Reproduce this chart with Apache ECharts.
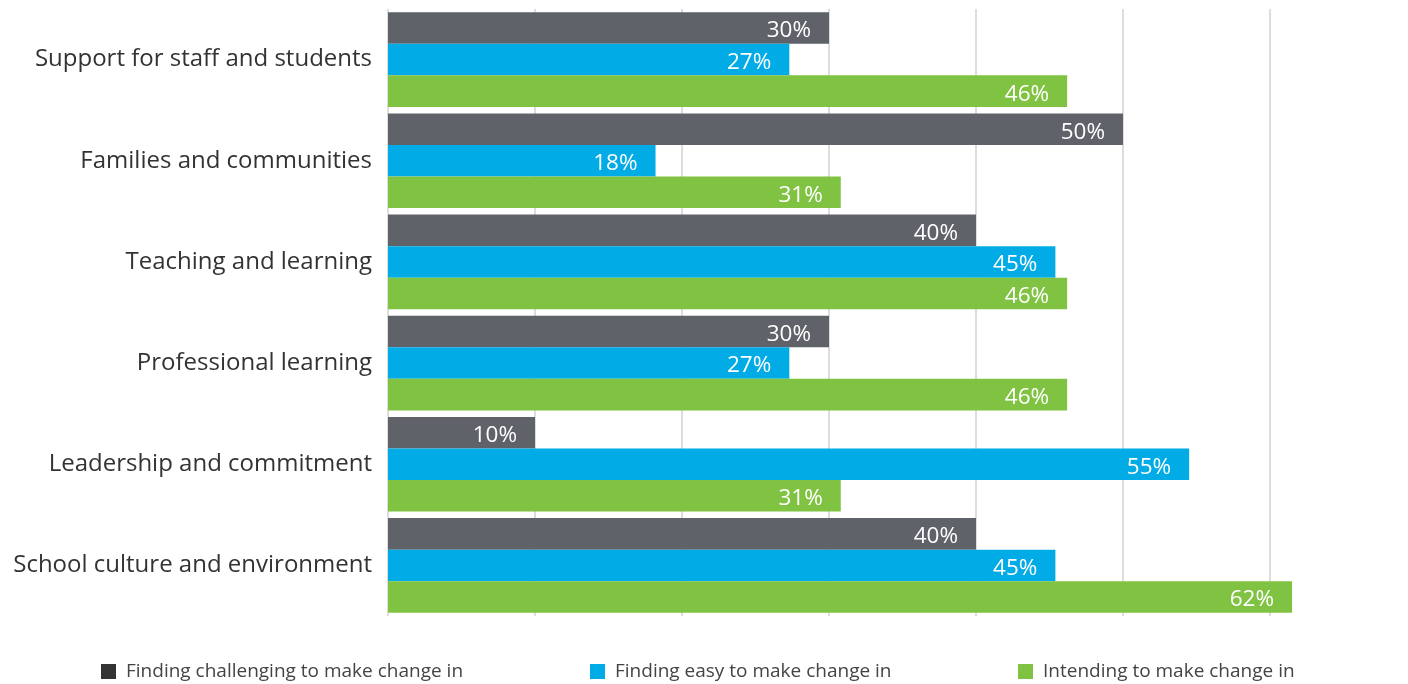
<!DOCTYPE html>
<html>
<head>
<meta charset="utf-8">
<script src="https://cdn.jsdelivr.net/npm/echarts@6/dist/echarts.min.js"></script>
<style>
  html, body { margin: 0; padding: 0; background: #fff; }
  #chart { width: 1408px; height: 684px; }
</style>
</head>
<body>
<div id="chart"></div>
<script>
const categories = [
  'Support for staff and students',
  'Families and communities',
  'Teaching and learning',
  'Professional learning',
  'Leadership and commitment',
  'School culture and environment'
]
const challenging = [30, 50, 40, 30, 10, 40]
const easy = [27.3, 18.2, 45.4, 27.3, 54.5, 45.4]
const intending = [46.2, 30.8, 46.2, 46.2, 30.8, 61.5]
const seriesNames = [
  'Finding challenging to make change in',
  'Finding easy to make change in',
  'Intending to make change in'
]
const xTicks = [0, 10, 20, 30, 40, 50, 60]

const colors = ['#5f6269', '#00abe6', '#80c342']
const legendColors = ['#333333', '#00abe6', '#80c342']
const fontFamily = '"Open Sans", "Noto Sans", sans-serif'

const chart = echarts.init(document.getElementById('chart'))

const makeSeries = (name, data, index) => ({
  type: 'bar',
  name,
  data,
  clip: false,
  barGap: '0%',
  barCategoryGap: '6.4%',
  itemStyle: { color: colors[index] },
  label: {
    show: true,
    position: 'insideRight',
    distance: 18,
    color: '#fff',
    fontFamily,
    fontSize: 22.5,
    offset: [0, 3],
    formatter: (p) => Math.round(p.value) + '%'
  }
})

const legendLefts = [96, 585, 1013]

chart.setOption({
  animation: false,
  grid: { left: 388, right: 138, top: 9, height: 607, containLabel: false },
  legend: seriesNames.map((name, i) => ({
    data: [{ name, itemStyle: { color: legendColors[i] } }],
    left: legendLefts[i],
    top: 657,
    icon: 'rect',
    itemWidth: 15,
    itemHeight: 15,
    itemGap: 10,
    textStyle: { color: '#444', fontFamily, fontSize: 19, padding: [0, 0, 0, 5] }
  })),
  xAxis: {
    type: 'value',
    min: xTicks[0],
    max: xTicks[xTicks.length - 1],
    interval: 10,
    axisLine: { show: false },
    axisTick: { show: false },
    axisLabel: { show: false },
    splitLine: { lineStyle: { color: '#dddddd', width: 2 } }
  },
  yAxis: {
    type: 'category',
    data: categories,
    inverse: true,
    axisLine: { show: false },
    axisTick: { show: false },
    axisLabel: { color: '#333', fontFamily, fontSize: 24, margin: 16, padding: [8, 0, 0, 0] }
  },
  series: [
    makeSeries(seriesNames[0], challenging, 0),
    makeSeries(seriesNames[1], easy, 1),
    makeSeries(seriesNames[2], intending, 2)
  ]
})
</script>
</body>
</html>
